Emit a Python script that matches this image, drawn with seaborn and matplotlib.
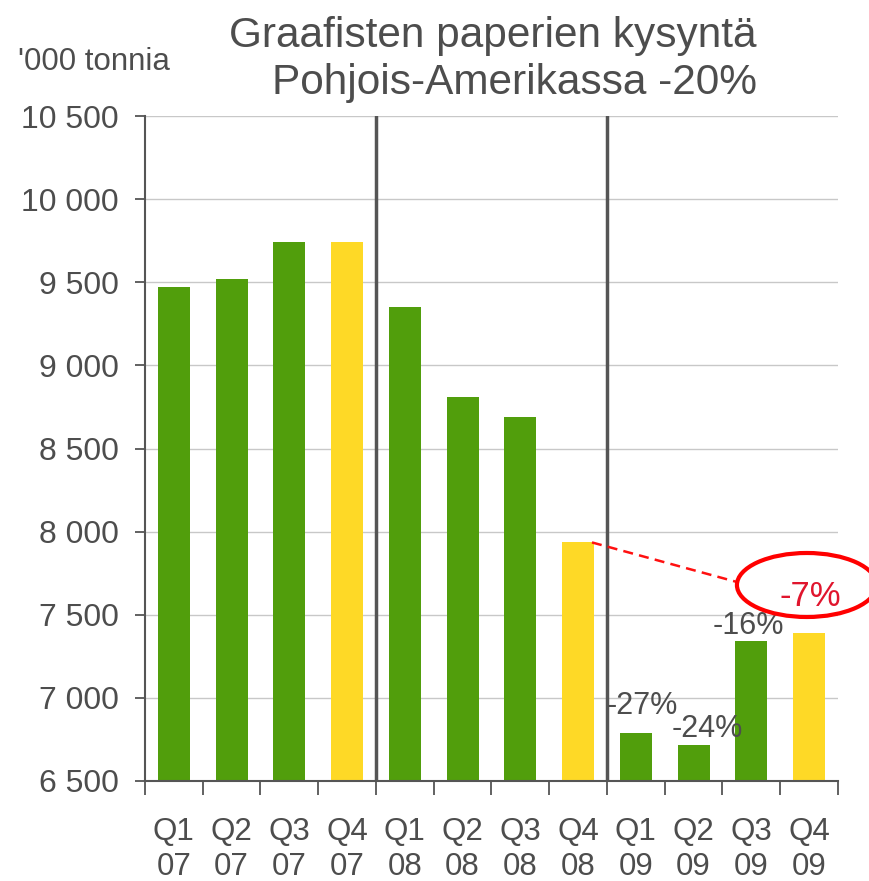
import matplotlib
matplotlib.use("Agg")
import matplotlib.pyplot as plt
import seaborn as sns
import pandas as pd
from matplotlib.patches import Ellipse

# ---- data ----
quarters = ["Q1", "Q2", "Q3", "Q4", "Q1", "Q2", "Q3", "Q4", "Q1", "Q2", "Q3", "Q4"]
years = ["07", "07", "07", "07", "08", "08", "08", "08", "09", "09", "09", "09"]
demand = [9470, 9520, 9740, 9740, 9350, 8810, 8690, 7935, 6790, 6715, 7340, 7390]
change_labels_09 = ["-27%", "-24%", "-16%", "-7%"]
y_ticks = [6500, 7000, 7500, 8000, 8500, 9000, 9500, 10000, 10500]
title_lines = ["Graafisten paperien kysyntä", "Pohjois-Amerikassa -20%"]
unit_label = "'000 tonnia"

GREEN = "#519E0C"
YELLOW = "#FED926"
TXT = "#4d4d4d"
AX = "#555555"

sns.set_theme(style="white")
plt.rcParams['font.family'] = ['Liberation Sans', 'DejaVu Sans']

labels = [f"{q}\n{y}" for q, y in zip(quarters, years)]
df = pd.DataFrame({"label": labels, "value": demand})
palette = {lab: (YELLOW if q == "Q4" else GREEN) for lab, q in zip(labels, quarters)}

fig = plt.figure(figsize=(8.7, 8.81), dpi=100)
ax = fig.add_axes([145 / 870, 1 - 781 / 881, (838 - 145) / 870, (781 - 116) / 881])

sns.barplot(data=df, x="label", y="value", hue="label", palette=palette,
            width=0.55, legend=False, ax=ax, saturation=1, linewidth=0)

ax.set_xlim(-0.5, len(labels) - 0.5)
ax.set_ylim(y_ticks[0], y_ticks[-1])
ax.set_yticks(y_ticks)
ax.set_yticklabels([f"{v:,}".replace(",", " ") for v in y_ticks])
ax.yaxis.grid(True, color="#c8c8c8", lw=1)
ax.xaxis.grid(False)
ax.set_axisbelow(True)
ax.set_xlabel("")
ax.set_ylabel("")

for s in ["top", "right"]:
    ax.spines[s].set_visible(False)
for s in ["left", "bottom"]:
    ax.spines[s].set_color(AX)
    ax.spines[s].set_linewidth(1.5)

ax.tick_params(axis="y", which="major", left=True, direction="out", length=7,
               width=1.3, color=AX, pad=12, labelsize=23, labelcolor=TXT)
ax.set_xticks(range(len(labels)))
ax.set_xticklabels(labels)
ax.tick_params(axis="x", which="major", bottom=True, length=0, pad=26,
               labelsize=22.5, labelcolor=TXT)
ax.set_xticks([i - 0.5 for i in range(len(labels) + 1)], minor=True)
ax.tick_params(axis="x", which="minor", bottom=True, direction="out",
               length=10, width=1.3, color=AX)

# year separators
ax.axvline(3.5, color=AX, lw=2.5, zorder=3)
ax.axvline(7.5, color=AX, lw=2.5, zorder=3)

# 2009 change labels
offs = [(0.12, 160), (0.23, 100), (-0.06, 90), (0.02, 217)]
for k, lab in enumerate(change_labels_09):
    i = 8 + k
    dx, dy = offs[k]
    if k == 3:
        ax.text(i + dx, demand[i] + dy, lab, ha="center", va="center",
                fontsize=25, color="#E0152D", zorder=5)
    else:
        ax.text(i + dx, demand[i] + dy, lab, ha="center", va="center",
                fontsize=22, color=TXT, zorder=5)

# dashed comparison line and ellipse
ax.plot([7.24, 9.75], [demand[7], 7697], color="#FF1010", lw=1.8,
        dashes=(4, 2.5), zorder=4, clip_on=False)
ax.add_patch(Ellipse((10.96, 7679), 2.42, 385, fill=False, edgecolor="#FF0000",
                     lw=3, zorder=6, clip_on=False))

# titles
fig.text(757 / 870, 1 - 47 / 881, title_lines[0], ha="right", va="baseline",
         fontsize=30.5, color=TXT)
fig.text(757 / 870, 1 - 94 / 881, title_lines[1], ha="right", va="baseline",
         fontsize=30.5, color=TXT)
fig.text(18 / 870, 1 - 70 / 881, unit_label, ha="left", va="baseline",
         fontsize=22.5, color=TXT)

fig.savefig("out.png", dpi=100)
